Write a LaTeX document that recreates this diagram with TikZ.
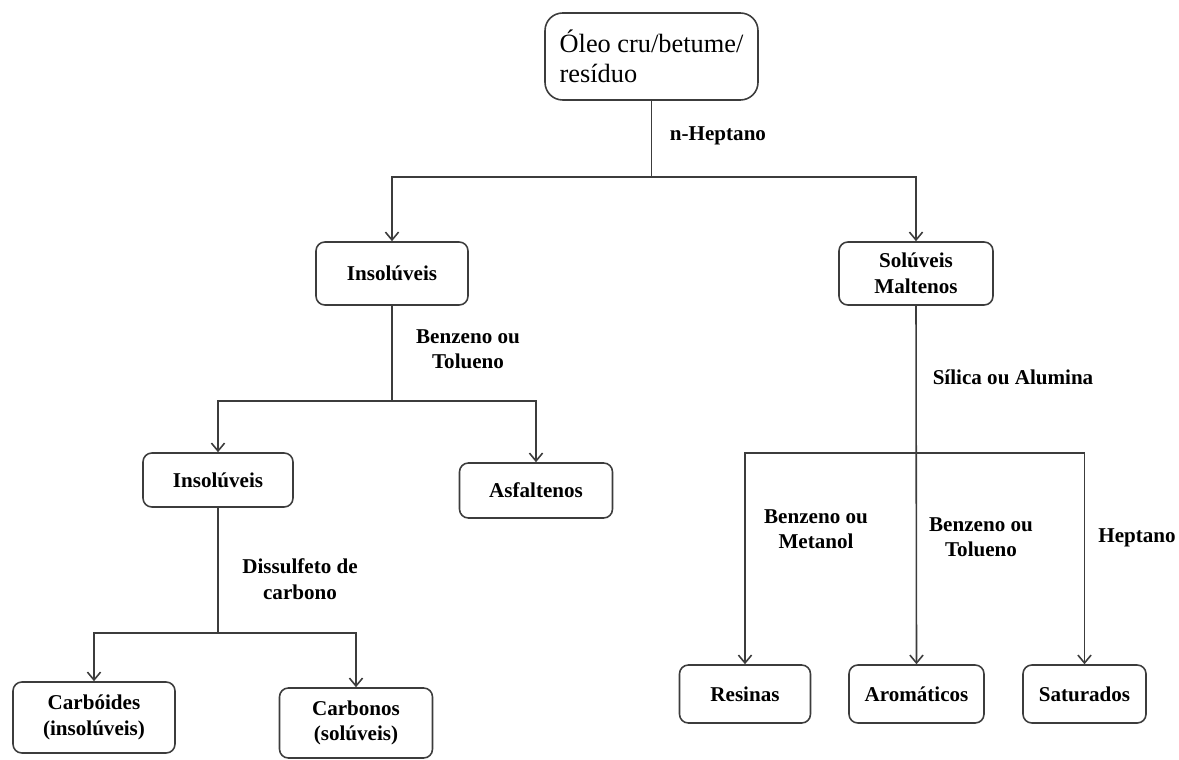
\documentclass[tikz,border=0pt]{standalone}
\usepackage{fontspec}
\setmainfont{Liberation Serif}
\usepackage{tikz}
\usetikzlibrary{calc,
	positioning,
	arrows.meta}
\definecolor{linegray}{RGB}{60,60,60}
\tikzstyle{box}=[draw=linegray, line width=0.9pt, rounded corners=5pt, align=center, inner sep=2pt, font=\fontsize{12}{14.5}\selectfont\bfseries]
\tikzstyle{root}=[draw=linegray, line width=0.9pt, rounded corners=10pt, align=left, inner sep=2pt, font=\fontsize{15}{17}\selectfont]
\tikzstyle{solv}=[align=center, inner sep=0pt, font=\fontsize{12}{14.5}\selectfont\bfseries]
\tikzstyle{link}=[draw=linegray, line width=0.9pt]
\tikzstyle{arr}=[link, -{Straight Barb[length=4.5pt,width=7.5pt]}]

\begin{document}
\begin{tikzpicture}[x=0.02cm, y=-0.02cm]
                \useasboundingbox (0,0) rectangle (1179,760);
                % boxes
                \node[root, minimum width=4.26cm, minimum height=1.74cm] (crude) at (651.5,56.5) {Óleo cru/betume/\\resíduo};
                \node[box, minimum width=3.04cm, minimum height=1.26cm] (insA) at (392,273.5) {Insolúveis};
                \node[box, minimum width=3.08cm, minimum height=1.26cm] (malt) at (916,273.5) {Solúveis\\Maltenos};
                \node[box, minimum width=3.0cm, minimum height=1.08cm] (insB) at (218,480) {Insolúveis};
                \node[box, minimum width=3.06cm, minimum height=1.1cm] (asph) at (536,490.5) {Asfaltenos};
                \node[box, minimum width=3.24cm, minimum height=1.42cm] (carbd) at (94,717.5) {Carbóides\\(insolúveis)};
                \node[box, minimum width=3.06cm, minimum height=1.4cm] (carbn) at (356,723) {Carbonos\\(solúveis)};
                \node[box, minimum width=2.62cm, minimum height=1.16cm] (resin) at (745,694) {Resinas};
                \node[box, minimum width=2.7cm, minimum height=1.16cm] (arom) at (916.5,694) {Aromáticos};
                \node[box, minimum width=2.46cm, minimum height=1.16cm] (satur) at (1084.5,694) {Saturados};
                % solvents
                \node[solv] (heptA) at (718,136) {n-Heptano};
                \node[solv] (benzA) at (468,349) {Benzeno ou\\Tolueno};
                \node[solv] (cs2) at (300,579) {Dissulfeto de\\carbono};
                \node[solv] (silica) at (1013,377) {Sílica ou Alumina};
                \node[solv] (benzM) at (816,529) {Benzeno ou\\Metanol};
                \node[solv] (benzT) at (981,537) {Benzeno ou\\Tolueno};
                \node[solv] (heptB) at (1137,538) {Heptano};
                % connectors
                \coordinate (jA) at (crude.south |- 0,177);
                \coordinate (jB) at (insA.south |- 0,401);
                \coordinate (jC) at (insB.south |- 0,633);
                \coordinate (jD) at (malt.south |- 0,453);
                \draw[link] (crude.south) -- (jA);
                \draw[arr] (jA) -| (insA.north);
                \draw[arr] (jA) -| (malt.north);
                \draw[link] (insA.south) -- (jB);
                \draw[arr] (jB) -| (insB.north);
                \draw[arr] (jB) -| (asph.north);
                \draw[link] (insB.south) -- (jC);
                \draw[arr] (jC) -| (carbd.north);
                \draw[arr] (jC) -| (carbn.north);
                \draw[arr] (malt.south) -- (arom.north);
                \draw[arr] (jD) -| (resin.north);
                \draw[arr] (jD) -| (satur.north);
\end{tikzpicture}
\end{document}
